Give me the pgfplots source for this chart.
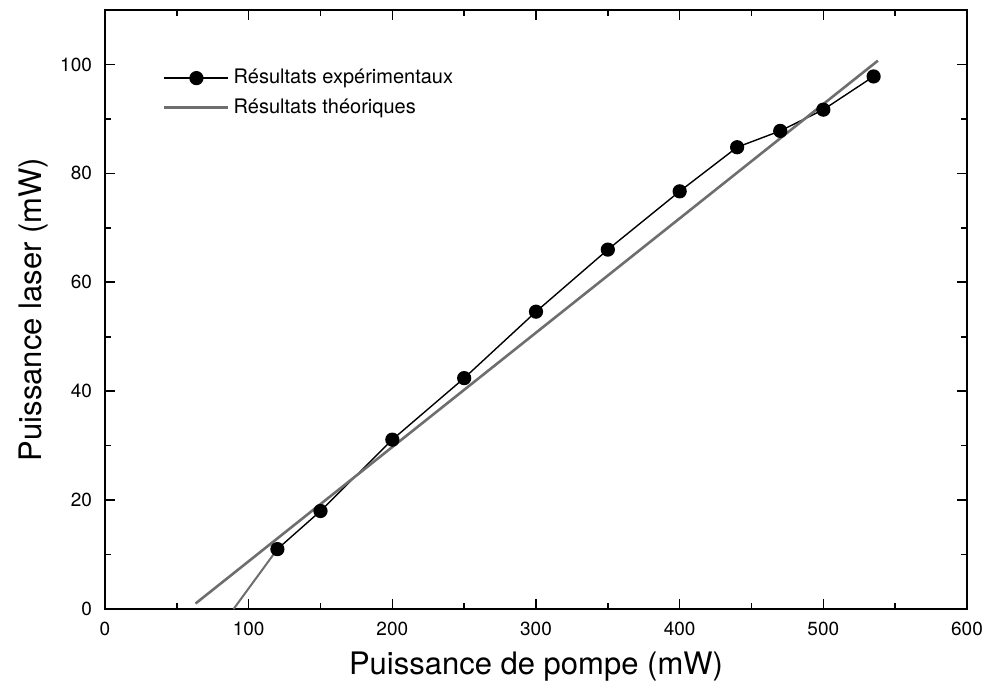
\documentclass[border=0pt]{standalone}
\usepackage{fontspec}
\setmainfont{TeX Gyre Heros}
\usepackage{pgfplots}
\pgfplotsset{compat=1.18}
\definecolor{theory}{RGB}{110,110,110}
\begin{document}
\begin{tikzpicture}
\useasboundingbox (-52.5pt,-39pt) rectangle (442pt,304.5pt);
\begin{axis}[
    width=431pt, height=299.5pt,
    scale only axis,
    xmin=0, xmax=600, ymin=0, ymax=110,
    xtick={0,100,...,600}, ytick={0,20,...,100},
    minor x tick num=1, minor y tick num=1,
    tick align=inside,
    major tick length=5pt, minor tick length=3pt,
    axis line style={line width=1pt},
    tick style={line width=0.8pt, black},
    /pgf/number format/assume math mode=true,
    tick label style={font=\fontsize{9.5}{11}\selectfont},
    yticklabel style={xshift=-3pt},
    xticklabel style={yshift=-3pt},
    label style={font=\fontsize{15.5}{18}\selectfont},
    xlabel={Puissance de pompe (mW)},
    ylabel={Puissance laser (mW)},
    xlabel style={yshift=-1pt},
    ylabel style={yshift=-1pt},
    legend style={draw=none, fill=none, at={(0.06,0.915)}, anchor=north west,
        font=\fontsize{10}{12}\selectfont, row sep=2pt},
    legend cell align=left,
    legend image code/.code={
        \draw[#1] (0pt,0pt) -- (32pt,0pt);
        \draw[#1, only marks] plot coordinates {(16pt,0pt)};
    },
]
\addplot[black, line width=0.7pt, mark=*, mark size=3.2pt, mark options={fill=black}]
coordinates {
    (120,11) (150,18) (200,31.1) (250,42.4) (300,54.6) (350,66)
    (400,76.7) (440,84.8) (470,87.8) (500,91.7) (535,97.8)
};
\addlegendentry{Résultats expérimentaux}
\addplot[theory, line width=1.3pt] coordinates {(63,1) (538,100.7)};
\addlegendentry{Résultats théoriques}
\addplot[theory, line width=1pt, forget plot] coordinates {(89.5,0) (120,11)};
\end{axis}
\end{tikzpicture}
\end{document}
